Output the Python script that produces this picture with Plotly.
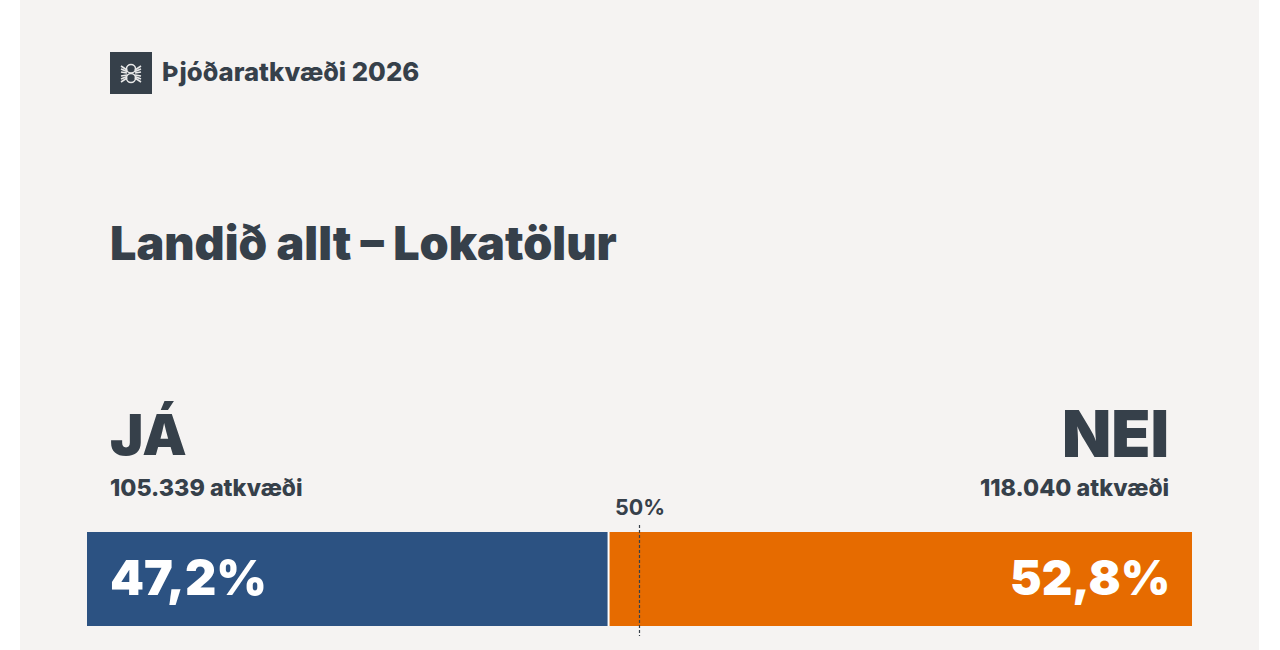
import plotly.graph_objects as go

# Data
CATEGORIES = ["JÁ", "NEI"]
SHARES = [47.2, 52.8]
SHARE_LABELS = ["47,2%", "52,8%"]
VOTE_LABELS = ["105.339 atkvæði", "118.040 atkvæði"]
MIDPOINT = 50
MIDPOINT_LABEL = "50%"
HEADER = "Þjóðaratkvæði 2026"
TITLE = "Landið allt – Lokatölur"

# Colors
DARK = "#36404a"
CARD = "#f5f3f2"
BAR_COLORS = ["#2c5282", "#e66b00"]
LOGO_INK = "#e8e8e8"

W, H = 1280, 650
FONT = "Inter"


def px(x):
    return x / W


def py(y):
    return 1 - y / H


fig = go.Figure()

base = 0
for name, share, color in zip(CATEGORIES, SHARES, BAR_COLORS):
    fig.add_trace(go.Bar(
        y=[0], x=[share], base=base, name=name, orientation="h", width=1,
        marker=dict(color=color, line=dict(width=0)), showlegend=False,
        hoverinfo="name+x",
    ))
    base += share

shapes = [
    # card behind everything
    dict(type="rect", xref="paper", yref="paper", x0=px(20), x1=px(1259), y0=0, y1=1,
         fillcolor=CARD, line_width=0, layer="below"),
    # white gap between the two bars
    dict(type="line", xref="x", yref="paper", x0=SHARES[0], x1=SHARES[0], y0=py(532), y1=py(626),
         line=dict(color="white", width=2)),
    # 50% marker
    dict(type="line", xref="x", yref="paper", x0=MIDPOINT, x1=MIDPOINT, y0=py(525), y1=py(636),
         line=dict(color=DARK, width=1.2, dash="3px,2px")),
    # logo
    dict(type="rect", xref="paper", yref="paper", x0=px(110), x1=px(152), y0=py(94), y1=py(52),
         fillcolor=DARK, line_width=0),
    dict(type="circle", xref="paper", yref="paper", x0=px(126.5), x1=px(135.5), y0=py(73), y1=py(64.5),
         line=dict(color=LOGO_INK, width=1.5)),
    dict(type="circle", xref="paper", yref="paper", x0=px(126.5), x1=px(135.5), y0=py(82.5), y1=py(73.5),
         line=dict(color=LOGO_INK, width=1.5)),
]
# logo whiskers, fanned out on both sides
for y0, y1 in [(70, 66), (71.5, 69), (73, 72), (75, 76), (76.5, 79), (78, 82)]:
    shapes.append(dict(type="line", xref="paper", yref="paper", x0=px(127), x1=px(121),
                       y0=py(y0), y1=py(y1), line=dict(color=LOGO_INK, width=1.6)))
    shapes.append(dict(type="line", xref="paper", yref="paper", x0=px(135), x1=px(141),
                       y0=py(y0), y1=py(y1), line=dict(color=LOGO_INK, width=1.6)))


def label(x, y, text, size, color=DARK, anchor="left", weight=800):
    return dict(xref="paper", yref="paper", x=px(x), y=py(y), text=text, showarrow=False,
                xanchor=anchor, yanchor="middle", borderpad=0, borderwidth=0,
                font=dict(family=FONT, size=size, color=color, weight=weight))


annotations = [
    label(162, 71, HEADER, 25.7),
    label(109.5, 243, TITLE, 46.7, weight=900),
    label(110, 435, CATEGORIES[0], 56, weight=900),
    label(1169, 433, CATEGORIES[1], 64, anchor="right", weight=900),
    label(110, 487, VOTE_LABELS[0], 23.3),
    label(1169, 487, VOTE_LABELS[1], 23.3, anchor="right"),
    label(639.5, 507, MIDPOINT_LABEL, 21.5, anchor="center", weight=700),
    label(109.5, 577, SHARE_LABELS[0], 48.5, color="white", weight=900),
    label(1169.5, 577, SHARE_LABELS[1], 47.5, color="white", anchor="right", weight=900),
]

fig.update_layout(
    width=W, height=H,
    margin=dict(l=0, r=0, t=0, b=0),
    barmode="overlay",
    paper_bgcolor="white",
    plot_bgcolor="rgba(0,0,0,0)",
    xaxis=dict(domain=[px(87), px(1192)], range=[0, 100], visible=False, fixedrange=True),
    yaxis=dict(domain=[py(626), py(532)], range=[-0.5, 0.5], visible=False, fixedrange=True),
    shapes=shapes,
    annotations=annotations,
)

# the page's default body margin would push the figure off by 8px
fig.write_html("out.html", config=dict(displayModeBar=False),
               post_script="document.body.style.margin='0';document.body.style.overflow='hidden';")
